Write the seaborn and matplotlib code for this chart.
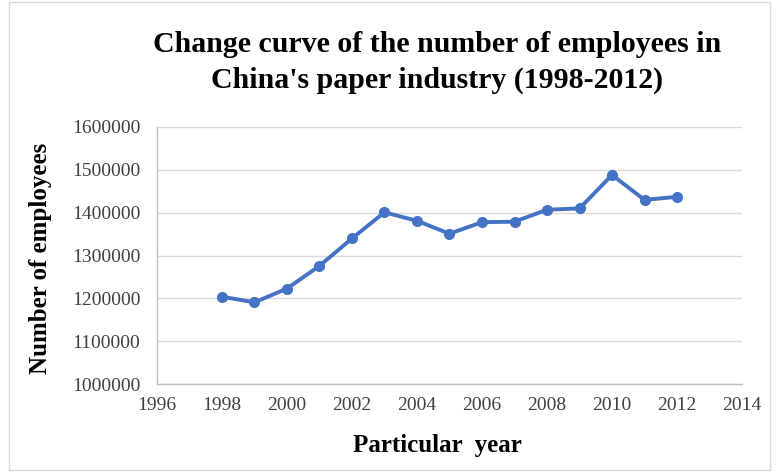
import matplotlib
matplotlib.use("Agg")
import matplotlib.pyplot as plt
import seaborn as sns
import pandas as pd
from matplotlib.patches import Rectangle

years = [1998, 1999, 2000, 2001, 2002, 2003, 2004, 2005, 2006, 2007, 2008, 2009, 2010, 2011, 2012]
employees = [1204000, 1191000, 1223000, 1276000, 1340000, 1401000, 1381000, 1351000,
             1378000, 1379000, 1407000, 1410000, 1488000, 1430000, 1437000]
x_ticks = [1996, 1998, 2000, 2002, 2004, 2006, 2008, 2010, 2012, 2014]
y_ticks = [1000000, 1100000, 1200000, 1300000, 1400000, 1500000, 1600000]

sns.set_theme(style="white")
plt.rcParams['font.family'] = ['Liberation Serif', 'DejaVu Serif']

df = pd.DataFrame({"year": years, "employees": employees})

fig = plt.figure(figsize=(7.77, 4.72), dpi=100)
ax = fig.add_axes([0.202, 0.186, 0.753, 0.545])

sns.lineplot(data=df, x="year", y="employees", ax=ax, color="#4472C4",
             linewidth=2.8, marker="o", markersize=8, markeredgewidth=0)

ax.set_xlim(1996, 2014)
ax.set_ylim(1000000, 1600000)
ax.set_xticks(x_ticks)
ax.set_xticklabels([str(t) for t in x_ticks])
ax.set_yticks(y_ticks)
ax.set_yticklabels([str(t) for t in y_ticks])
ax.tick_params(axis='y', labelsize=14, colors='#404040', length=0, pad=12)
ax.tick_params(axis='x', labelsize=14, colors='#404040', length=0, pad=9)
ax.grid(axis='y', color='#D9D9D9', linewidth=1)
for s in ['top', 'right']:
    ax.spines[s].set_visible(False)
for s in ['left', 'bottom']:
    ax.spines[s].set_color('#BFBFBF')
    ax.spines[s].set_linewidth(1)

ax.set_xlabel("")
ax.set_ylabel("")

fig.text(0.563, 0.905, "Change curve of the number of employees in", ha='center', va='center',
         fontsize=21.5, fontweight='bold', color='#000000')
fig.text(0.563, 0.830, "China's paper industry (1998-2012)", ha='center', va='center',
         fontsize=21.5, fontweight='bold', color='#000000')
fig.text(0.563, 0.057, "Particular  year", ha='center', va='center',
         fontsize=18, fontweight='bold', color='#000000')
fig.text(0.052, 0.453, "Number of employees", ha='center', va='center', rotation=90,
         fontsize=18, fontweight='bold', color='#000000')

fig.patches.append(Rectangle((0.011, 0.004), 0.98, 0.992, transform=fig.transFigure,
                             fill=False, edgecolor='#D9D9D9', linewidth=1))

fig.savefig("out.png", dpi=100, facecolor='white')
